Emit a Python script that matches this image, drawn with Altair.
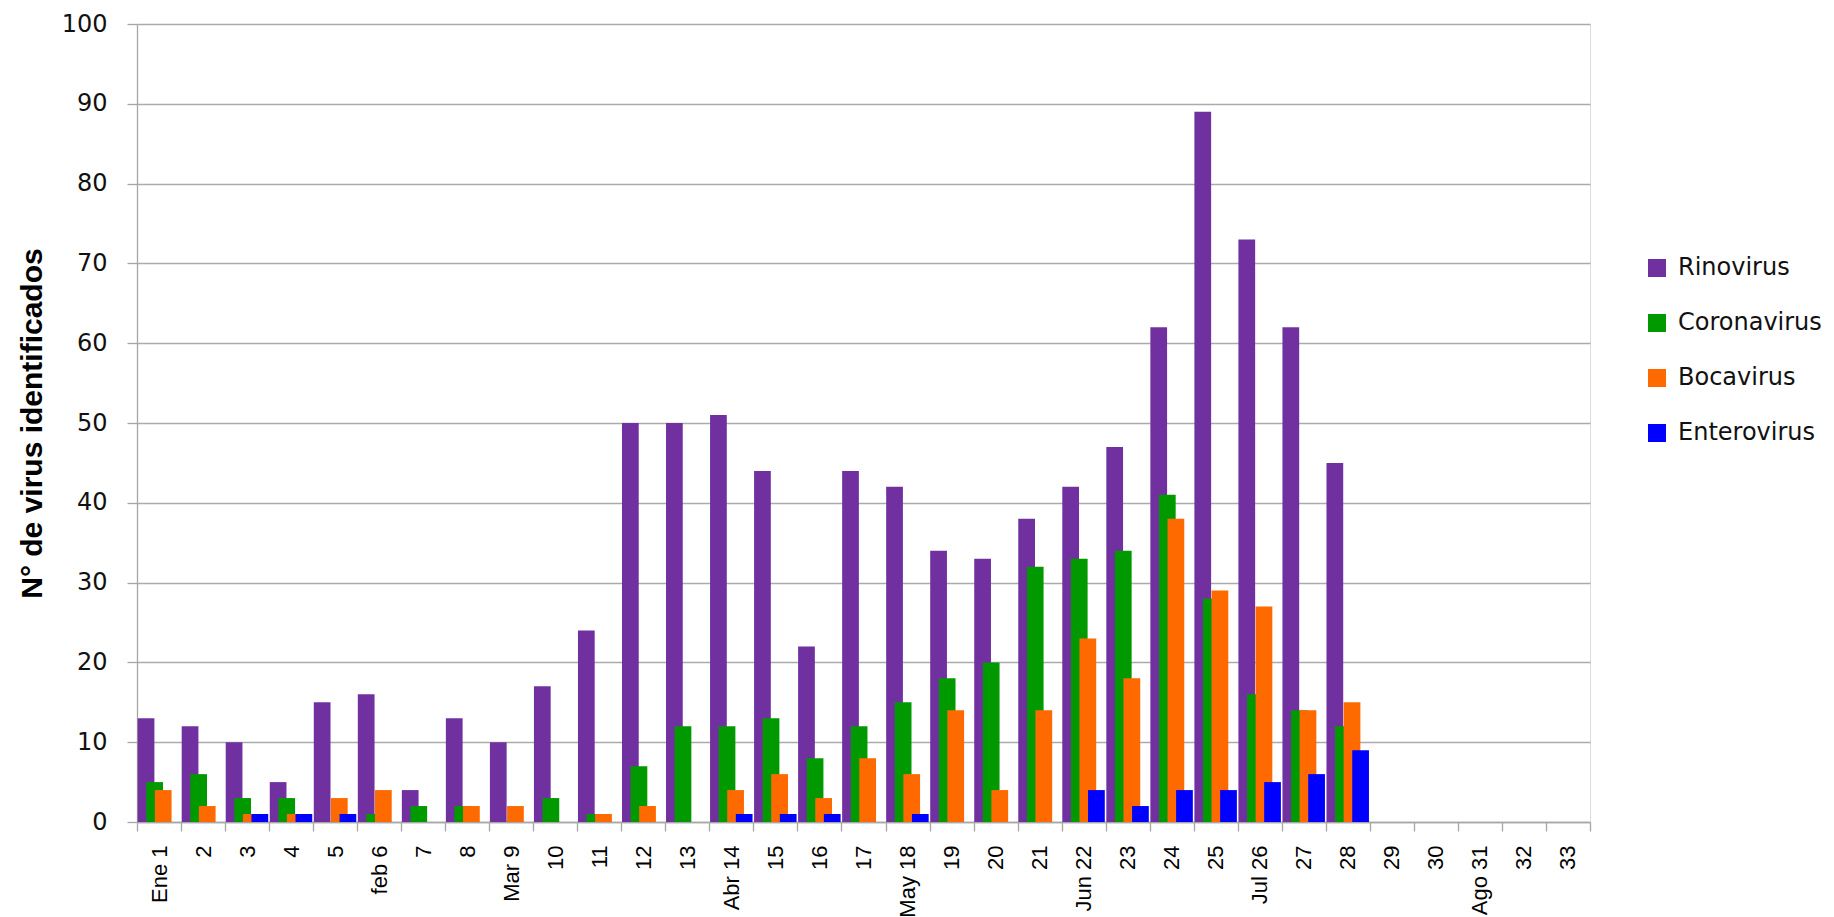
import altair as alt
import pandas as pd

categories = ["Ene 1", "2", "3", "4", "5", "feb 6", "7", "8", "Mar 9", "10", "11",
              "12", "13", "Abr 14", "15", "16", "17", "May 18", "19", "20", "21",
              "Jun 22", "23", "24", "25", "Jul 26", "27", "28", "29", "30", "Ago 31",
              "32", "33"]

rinovirus   = [13, 12, 10, 5, 15, 16, 4, 13, 10, 17, 24, 50, 50, 51, 44, 22, 44, 42, 34, 33, 38,
               42, 47, 62, 89, 73, 62, 45, 0, 0, 0, 0, 0]
coronavirus = [5, 6, 3, 3, 0, 1, 2, 2, 0, 3, 1, 7, 12, 12, 13, 8, 12, 15, 18, 20, 32,
               33, 34, 41, 28, 16, 14, 12, 0, 0, 0, 0, 0]
bocavirus   = [4, 2, 1, 1, 3, 4, 0, 2, 2, 0, 1, 2, 0, 4, 6, 3, 8, 6, 14, 4, 14,
               23, 18, 38, 29, 27, 14, 15, 0, 0, 0, 0, 0]
enterovirus = [0, 0, 1, 1, 1, 0, 0, 0, 0, 0, 0, 0, 0, 1, 1, 1, 0, 1, 0, 0, 0,
               4, 2, 4, 4, 5, 6, 9, 0, 0, 0, 0, 0]

series_names = ["Rinovirus", "Coronavirus", "Bocavirus", "Enterovirus"]
series_colors = ["#7030A0", "#009A00", "#FF6A00", "#0000FF"]
series_values = [rinovirus, coronavirus, bocavirus, enterovirus]

rows = []
for k, (name, vals) in enumerate(zip(series_names, series_values)):
    for i, v in enumerate(vals):
        rows.append({"idx": i, "serie": name, "k": k, "valor": v})
df = pd.DataFrame(rows)

label_array = "[" + ",".join("'" + c + "'" for c in categories) + "]"
n = len(categories)
W, H = 1453, 798

bars = alt.Chart(df).transform_filter("datum.valor > 0").transform_calculate(
    x0="datum.idx + 0.015 + datum.k * 0.195",
    x1="datum.idx + 0.015 + datum.k * 0.195 + 0.38",
).mark_bar().encode(
    x=alt.X("x0:Q", scale=alt.Scale(domain=[0, n], nice=False, zero=False),
            axis=alt.Axis(values=list(range(0, n + 1)), title=None, grid=False,
                          labelExpr="datum.value < " + str(n) + " ? " + label_array + "[datum.value] : ''",
                          labelAngle=-90, labelAlign="right", labelBaseline="middle",
                          labelOffset=W / n / 2, labelFont="Liberation Sans",
                          labelFontSize=22, labelColor="#000000", labelPadding=14,
                          tickSize=9, tickColor="#A6A6A6", tickWidth=1.3,
                          domainColor="#A6A6A6", domainWidth=1.3, labelOverlap=False)),
    x2="x1:Q",
    y=alt.Y("valor:Q", scale=alt.Scale(domain=[0, 100], nice=False),
            axis=alt.Axis(values=list(range(0, 101, 10)), title="N° de virus identificados",
                          titleFont="Liberation Sans", titleFontSize=30,
                          titleFontWeight="bold", titleColor="#000000", titlePadding=14,
                          labelFont="DejaVu Sans", labelFontSize=24, labelColor="#111111",
                          labelPadding=20, tickSize=10, tickColor="#A6A6A6", tickWidth=1.3,
                          domainColor="#A6A6A6", domainWidth=1.3,
                          grid=True, gridColor="#ABABAB", gridWidth=1.3)),
    y2=alt.datum(0),
    color=alt.Color("serie:N", sort=series_names,
                    scale=alt.Scale(domain=series_names, range=series_colors),
                    legend=alt.Legend(title=None, orient="none", legendX=1508, legendY=232,
                                      symbolType="square", symbolSize=324,
                                      symbolStrokeWidth=0, labelFont="DejaVu Sans",
                                      labelFontSize=24, labelColor="#111111",
                                      labelOffset=9, rowPadding=31)),
    order=alt.Order("k:Q"),
)

chart = bars.properties(
    width=W, height=H,
    autosize=alt.AutoSizeParams(type="none"),
    padding={"left": 129, "top": 16, "right": 236, "bottom": 95},
).configure_view(fill="#E8DFD3", stroke=None).configure(background="#FFFFFF")

chart.save("out.html", embed_options={"renderer": "svg", "actions": False})
